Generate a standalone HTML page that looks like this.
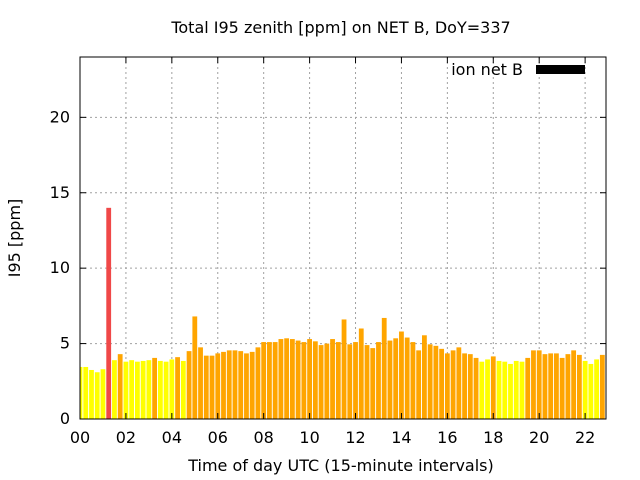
<!DOCTYPE html>
<html><head><meta charset="utf-8"><style>
html,body{margin:0;padding:0;background:#fff;}
svg{display:block;font-family:"DejaVu Sans","Liberation Sans",sans-serif;}
</style></head><body>
<svg id="chart" width="640" height="480" viewBox="0 0 640 480" xmlns="http://www.w3.org/2000/svg">
<rect x="0" y="0" width="640" height="480" fill="#fff"/>
<text x="341" y="33" font-size="16" text-anchor="middle" fill="#000">Total I95 zenith [ppm] on NET B, DoY=337</text>
<g id="grid"></g>
<g id="bars"></g>
<g id="axes"></g>
<text transform="translate(20,238) rotate(-90)" font-size="16" text-anchor="middle" fill="#000">I95 [ppm]</text>
<text x="341" y="471" font-size="16" text-anchor="middle" fill="#000">Time of day UTC (15-minute intervals)</text>
<g>
<text x="523" y="75" font-size="16" text-anchor="end" fill="#000">ion net B</text>
<rect x="536" y="65" width="49" height="9" fill="#000"/>
</g>
</svg>
<script>
const values = [3.45,3.45,3.25,3.1,3.3,14.0,3.9,4.3,3.8,3.9,3.8,3.85,3.9,4.05,3.85,3.8,3.95,4.1,3.85,4.5,6.8,4.75,4.2,4.2,4.35,4.45,4.55,4.55,4.5,4.35,4.45,4.75,5.1,5.1,5.1,5.3,5.35,5.3,5.2,5.1,5.3,5.15,4.9,5.0,5.3,5.1,6.6,4.95,5.1,6.0,4.9,4.7,5.1,6.7,5.2,5.35,5.8,5.4,5.1,4.55,5.55,4.95,4.85,4.65,4.35,4.55,4.75,4.35,4.3,4.05,3.8,3.95,4.15,3.85,3.8,3.65,3.85,3.8,4.05,4.55,4.55,4.3,4.35,4.35,4.05,4.3,4.55,4.25,3.85,3.65,3.95,4.25];
const yTicks = [0,5,10,15,20];
const yTickLabels = ["0","5","10","15","20"];
const xTickHours = [0,2,4,6,8,10,12,14,16,18,20,22];
const xTickLabels = ["00","02","04","06","08","10","12","14","16","18","20","22"];

const NS="http://www.w3.org/2000/svg";
const L=80,R=606,T=57,B=419,YMAX=24,PITCH=5.74;
const yS=v=>B-(B-T)*v/YMAX;
const xS=i=>L+PITCH*i;
function mk(tag,attrs,parent){const e=document.createElementNS(NS,tag);for(const k in attrs)e.setAttribute(k,attrs[k]);parent.appendChild(e);return e;}
const grid=document.getElementById('grid'),bars=document.getElementById('bars'),axes=document.getElementById('axes');

yTicks.forEach((v,k)=>{
  const y=yS(v);
  if(v>0){const g=mk('line',{x1:L,x2:R,y1:y,y2:y,stroke:'#a0a0a0','stroke-width':1,'stroke-dasharray':'2,3'},grid);
  
  }
  mk('line',{x1:L,x2:L+6,y1:y,y2:y,stroke:'#000'},axes);
  mk('line',{x1:R,x2:R-6,y1:y,y2:y,stroke:'#000'},axes);
  const t=mk('text',{x:L-10,y:y+5,'font-size':16,'text-anchor':'end',fill:'#000'},axes);
  t.textContent=yTickLabels[k];
  
  
});
xTickHours.forEach((h,k)=>{
  const x=xS(h*4);
  if(h>0){const g=mk('line',{x1:x,x2:x,y1:T,y2:B,stroke:'#a0a0a0','stroke-width':1,'stroke-dasharray':'2,3'},grid);
  
  }
  mk('line',{x1:x,x2:x,y1:B,y2:B-6,stroke:'#000'},axes);
  mk('line',{x1:x,x2:x,y1:T,y2:T+6,stroke:'#000'},axes);
  const t=mk('text',{x:x,y:443,'font-size':16,'text-anchor':'middle',fill:'#000'},axes);
  t.textContent=xTickLabels[k];
  
  
});
const clip=mk('clipPath',{id:'pc'},document.getElementById('chart'));
mk('rect',{x:L,y:T,width:R-L,height:B-T},clip);
bars.setAttribute('clip-path','url(#pc)');
values.forEach((v,i)=>{
  const col=v>10?'#f04848':(v>=4?'#ffa500':'#ffff00');
  const r=mk('rect',{x:xS(i)-2.4,y:yS(v),width:4.8,height:B-yS(v),fill:col},bars);
  
  
});
const frame=mk('rect',{x:L,y:T,width:R-L,height:B-T,fill:'none',stroke:'#000','stroke-width':1},axes);


</script>
</body></html>
